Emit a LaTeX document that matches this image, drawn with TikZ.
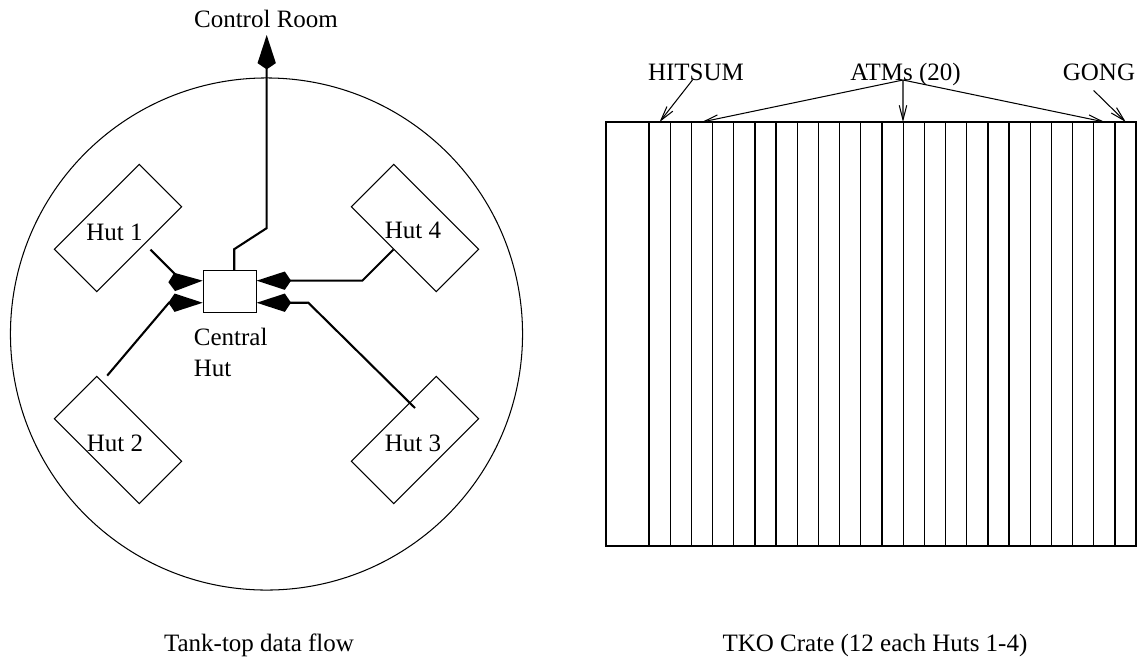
\documentclass[tikz,border=0pt]{standalone}
\usepackage{fontspec}
\setmainfont{Liberation Serif}
\usetikzlibrary{arrows.meta, calc}
\tikzset{
    thinline/.style={line width=0.5pt},
    tankcircle/.style={draw, circle, thinline, minimum size=245.8pt, inner sep=0pt},
    hutbox/.style={draw, rectangle, thinline, minimum width=57.6pt, minimum height=28.8pt, inner sep=0pt},
    centralbox/.style={draw, rectangle, thinline, minimum width=25.4pt, minimum height=20.2pt, inner sep=0pt},
    cratebox/.style={draw, rectangle, line width=0.9pt, minimum width=254.4pt, minimum height=203.5pt, inner sep=0pt},
    slotline/.style={line width=0.6pt},
    txt/.style={font=\fontsize{12}{15}\selectfont, inner sep=0pt},
    basetxt/.style={txt, anchor=base},
    flowline/.style={line width=1pt, -{Kite[length=16.5pt, width=8.8pt, inset=3pt]}},
    pointer/.style={thinline, -{Straight Barb[length=7pt, width=3.6pt]}},
}
\begin{document}
\begin{tikzpicture}[x=0.48pt, y=-0.48pt]
            \useasboundingbox (0,0) rectangle (1143,658);

            % Tank top
            \node[tankcircle] (tank) at (266.5,334) {};
            \node[centralbox] (central) at (229.7,291.7) {};
            \node[txt, anchor=base west] (centrallabel) at (193.5,345) {Central};
            \node[txt, anchor=base west] (centralhut) at (193.5,376.5) {Hut};

            \node[hutbox, rotate=45] (hut1) at (118,228) {};
            \node[hutbox, rotate=-45] (hut2) at (118,440) {};
            \node[hutbox, rotate=45] (hut3) at (415,440) {};
            \node[hutbox, rotate=-45] (hut4) at (415,228) {};
            \node[txt] (hut1label) at (114.5,232) {Hut 1};
            \node[txt] (hut2label) at (115,443) {Hut 2};
            \node[txt] (hut3label) at (413,443) {Hut 3};
            \node[txt] (hut4label) at (413,230) {Hut 4};

            \node[basetxt] (room) at (266,27) {Control Room};
            \coordinate (roomport) at (266.7,35);
            \coordinate (hut3port) at (415,408);

            % Data flow
            \draw[flowline] ([xshift=2.2pt]central.north) -- ++(0,-21) -- ++(32.4,-21) -- (roomport);
            \draw[flowline] ([xshift=5.2pt]hut1.south) -- ++(32,32) -- ([yshift=5.3pt]central.west);
            \draw[flowline] ([xshift=5pt]hut2.north west) -- (169,302.7) -- ([yshift=-5.3pt]central.west);
            \draw[flowline] (hut3port) -- (308.3,302.7) -- ([yshift=-5.3pt]central.east);
            \draw[flowline] (hut4.south) -- (362.3,280.7) -- ([yshift=5.3pt]central.east);

            \node[basetxt] (tankcaption) at (259,651) {Tank-top data flow};

            % TKO crate
            \node[cratebox] (crate) at (871,334) {};
            \foreach \k in {0,...,22}
                \draw[slotline] ({649+21.18*\k},122) -- ({649+21.18*\k},546);

            \node[basetxt] (hitsum) at (696,80) {HITSUM};
            \node[basetxt] (atms) at (905.5,80) {ATMs (20)};
            \node[basetxt] (gong) at (1099,80) {GONG};

            \coordinate (hitsumslot) at (659.6,122);
            \coordinate (atmfirst) at (701.9,122);
            \coordinate (atmmid) at (903,122);
            \coordinate (atmlast) at (1104.6,122);
            \coordinate (gongslot) at (1125.8,122);

            \draw[pointer] ([xshift=-1.7pt]hitsum.base) -- (hitsumslot);
            \draw[pointer] ([xshift=-1.2pt]atms.base) -- (atmfirst);
            \draw[pointer] ([xshift=-1.2pt]atms.base) -- (atmmid);
            \draw[pointer] ([xshift=-1.2pt]atms.base) -- (atmlast);
            \draw[pointer] ([xshift=-2.6pt, yshift=-5pt]gong.base) -- (gongslot);

            \node[basetxt] (cratecaption) at (875,651) {TKO Crate (12 each Huts 1-4)};
        \end{tikzpicture}
\end{document}
